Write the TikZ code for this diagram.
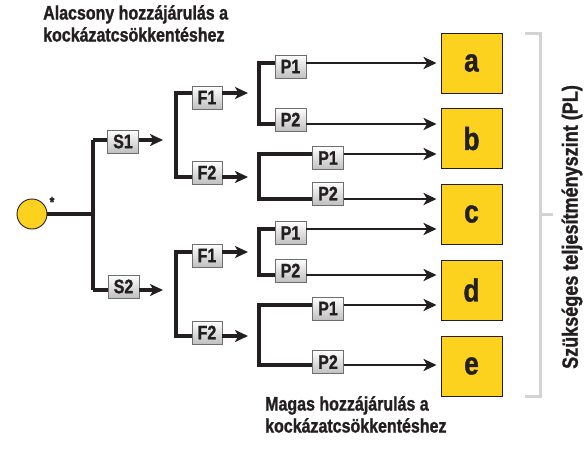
\documentclass[tikz,border=0pt]{standalone}
\usepackage{fontspec}
\newfontfamily\condb{Liberation Sans}[UprightFont={* Bold}, FakeStretch=0.82, FakeBold=1.2]
\usetikzlibrary{arrows.meta}
\definecolor{ink}{HTML}{231F20}
\definecolor{gold}{HTML}{FDD21E}
\definecolor{edge}{HTML}{6D6E71}
\definecolor{brk}{HTML}{D1D3D4}
\begin{document}
\begin{tikzpicture}[x=1pt,y=-1pt,
  wire/.style={draw=ink, line width=3.2pt},
  arr/.style={wire, -{Stealth[length=13pt,width=12pt,inset=3.5pt]}},
  gbox/.style={draw=edge, line width=0.9pt, top color=white, bottom color=gray!50,
    minimum width=31pt, minimum height=23pt, inner sep=0pt,
    font=\condb\fontsize{19.5}{19.5}\selectfont, text=ink},
  plbox/.style={draw=ink, line width=0.9pt, fill=gold, minimum width=61pt,
    minimum height=60pt, inner sep=0pt, font=\condb\fontsize{32}{32}\selectfont, text=ink},
  lbl/.style={font=\condb\fontsize{19.5}{22}\selectfont, text=ink, align=left, inner sep=0pt},
  brkline/.style={draw=brk, line width=3pt}]
\useasboundingbox (0,0) rectangle (586,448);

% labels
\node[lbl, anchor=north west] (low) at (43,5) {Alacsony hozzájárulás a\\kockázatcsökkentéshez};
\node[lbl, anchor=north west] (high) at (265,396) {Magas hozzájárulás a\\kockázatcsökkentéshez};
\node[lbl, font=\condb\fontsize{22}{22}\selectfont, rotate=90] (pl) at (572,227) {Szükséges teljesítményszint (PL)};

% start
\node[circle, draw=ink, line width=0.9pt, fill=gold, minimum size=30pt, inner sep=0pt] (C) at (32,214) {};
\node[font=\condb\fontsize{15}{15}\selectfont, text=ink, inner sep=0pt] (ast) at (52,202) {*};

% result boxes
\node[plbox] (a) at (471.5,63) {a};
\node[plbox] (b) at (471.5,138.5) {b};
\node[plbox] (c) at (471.5,214) {c};
\node[plbox] (d) at (471.5,290) {d};
\node[plbox] (e) at (471.5,366) {e};

% S level
\coordinate (J0) at (93,214);
\coordinate (T1) at (93,140);
\coordinate (T2) at (93,290);
\coordinate (A1) at (163,140);
\coordinate (A2) at (163,290);
\node[gbox] (S1) at (123,141.5) {S1};
\node[gbox] (S2) at (123.5,286.5) {S2};
\draw[wire] (C.east) -- (J0);
\draw[wire] (T1) -- (T2);
\draw[wire] (T1) -- (S1.west |- T1);
\draw[arr] (S1.east |- T1) -- (A1);
\draw[wire] (T2) -- (S2.west |- T2);
\draw[arr] (S2.east |- T2) -- (A2);

% F level, upper
\coordinate (U1) at (176,93);
\coordinate (U2) at (176,177);
\coordinate (UA1) at (248,93);
\coordinate (UA2) at (248,177);
\node[gbox, minimum width=30pt] (F1u) at (207,97.5) {F1};
\node[gbox, minimum width=30pt] (F2u) at (207,172.5) {F2};
\draw[wire] (F1u.west |- U1) -- (U1) -- (U2) -- (F2u.west |- U2);
\draw[arr] (F1u.east |- U1) -- (UA1);
\draw[arr] (F2u.east |- U2) -- (UA2);

% F level, lower
\coordinate (L1) at (176,252);
\coordinate (L2) at (176,336);
\coordinate (LA1) at (248,252);
\coordinate (LA2) at (248,336);
\node[gbox, minimum width=30pt] (F1l) at (207,255.5) {F1};
\node[gbox, minimum width=30pt] (F2l) at (207,332.5) {F2};
\draw[wire] (F1l.west |- L1) -- (L1) -- (L2) -- (F2l.west |- L2);
\draw[arr] (F1l.east |- L1) -- (LA1);
\draw[arr] (F2l.east |- L2) -- (LA2);

% P groups
\coordinate (G1a) at (259,63);
\coordinate (G1b) at (259,124);
\coordinate (G2a) at (259,154);
\coordinate (G2b) at (259,199);
\coordinate (G3a) at (259,229);
\coordinate (G3b) at (259,275);
\coordinate (G4a) at (259,305);
\coordinate (G4b) at (259,365);
\node[gbox] (P11) at (290.5,66.5) {P1};
\node[gbox] (P12) at (290.5,119.5) {P2};
\node[gbox] (P21) at (328,158) {P1};
\node[gbox] (P22) at (328,193.5) {P2};
\node[gbox] (P31) at (290.5,233) {P1};
\node[gbox] (P32) at (290.5,270.5) {P2};
\node[gbox] (P41) at (328,308.5) {P1};
\node[gbox] (P42) at (328,362) {P2};

\draw[wire] (P11.west |- G1a) -- (G1a) -- (G1b) -- (P12.west |- G1b);
\draw[wire] (P21.west |- G2a) -- (G2a) -- (G2b) -- (P22.west |- G2b);
\draw[wire] (P31.west |- G3a) -- (G3a) -- (G3b) -- (P32.west |- G3b);
\draw[wire] (P41.west |- G4a) -- (G4a) -- (G4b) -- (P42.west |- G4b);

\begin{scope}[shorten >=4pt]
\draw[arr, line width=2.8pt] (P11.east |- G1a) -- (a.west |- G1a);
\draw[arr, line width=2.8pt] (P12.east |- G1b) -- (b.west |- G1b);
\draw[arr, line width=2.8pt] (P21.east |- G2a) -- (b.west |- G2a);
\draw[arr, line width=2.8pt] (P22.east |- G2b) -- (c.west |- G2b);
\draw[arr, line width=2.8pt] (P31.east |- G3a) -- (c.west |- G3a);
\draw[arr, line width=2.8pt] (P32.east |- G3b) -- (d.west |- G3b);
\draw[arr, line width=2.8pt] (P41.east |- G4a) -- (d.west |- G4a);
\draw[arr, line width=2.8pt] (P42.east |- G4b) -- (e.west |- G4b);
\end{scope}

% PL bracket
\coordinate (B1) at (525,33);
\coordinate (B2) at (540,33);
\coordinate (B3) at (540,396);
\coordinate (B4) at (525,396);
\coordinate (BM) at (540,214);
\coordinate (BT) at (553,214);
\draw[brkline] (B1) -- (B2) -- (B3) -- (B4);
\draw[brkline] (BM) -- (BT);
\end{tikzpicture}
\end{document}
